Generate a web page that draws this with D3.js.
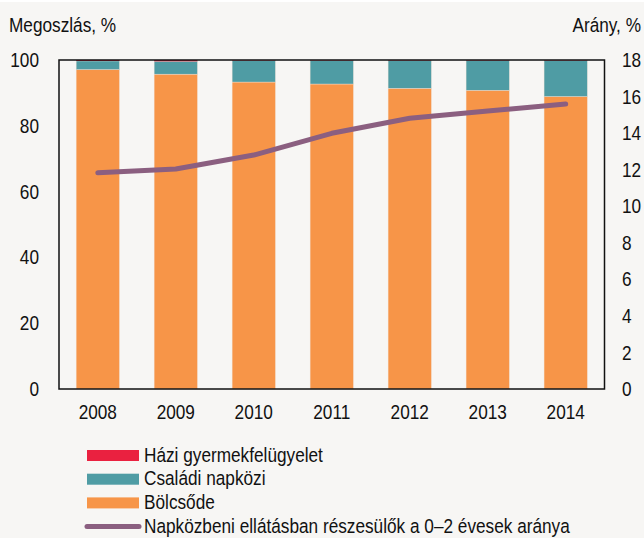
<!DOCTYPE html>
<html><head><meta charset="utf-8">
<script src="https://cdn.jsdelivr.net/npm/d3@7"></script>
<style>
html,body{margin:0;padding:0;background:#f7f6f4;}
svg{display:block;}
text{font-family:"Liberation Sans",Arial,sans-serif;fill:#111;}
</style></head>
<body><svg id="c" width="644" height="538"></svg>
<script>
const years = ["2008","2009","2010","2011","2012","2013","2014"];
const bolcsode = [97.1, 95.7, 93.3, 92.7, 91.4, 90.8, 88.9];
const csaladi = [2.6, 3.9, 6.55, 7.15, 8.45, 9.05, 10.95];
const hazi = [0.3, 0.4, 0.15, 0.15, 0.15, 0.15, 0.15];
const arany = [11.83, 12.04, 12.8, 13.99, 14.81, 15.21, 15.59];
const leftTicks = [0, 20, 40, 60, 80, 100];
const rightTicks = [0, 2, 4, 6, 8, 10, 12, 14, 16, 18];
const seriesNames = ["Házi gyermekfelügyelet", "Családi napközi", "Bölcsőde"];
const lineName = "Napközbeni ellátásban részesülők a 0–2 évesek aránya";
const colors = {bolcsode:"#f79548", csaladi:"#4f9ca4", hazi:"#ea2140", line:"#8b5f80"};

const FS = 20.5, SX = 0.84;
const svg = d3.select("#c");
svg.append("rect").attr("width",644).attr("height",538).attr("fill","#f7f6f4");
svg.append("rect").attr("width",644).attr("height",2).attr("fill","#ffffff");

function label(sel, x, y, txt, anchor){
  return sel.append("text")
    .attr("transform",`translate(${x},${y}) scale(${SX},1)`)
    .attr("font-size",FS).attr("text-anchor",anchor||"start").text(txt);
}

const L = 59, R = 604.5, T = 60, B = 389;
const x = d3.scaleBand().domain(years).range([L, R]).paddingInner(0.445).paddingOuter(0.22);
const yL = d3.scaleLinear().domain([0,100]).range([B, T]);
const yR = d3.scaleLinear().domain([0,18]).range([B, T]);

const rows = years.map((yr,i)=>({yr, bolcsode:bolcsode[i], csaladi:csaladi[i], hazi:hazi[i]}));
const stack = d3.stack().keys(["bolcsode","csaladi","hazi"])(rows);

const g = svg.append("g");
stack.forEach(s=>{
  g.selectAll(null).data(s).enter().append("rect")
    .attr("x", d=>x(d.data.yr))
    .attr("width", x.bandwidth())
    .attr("y", d=>yL(d[1]))
    .attr("height", d=>yL(d[0])-yL(d[1]))
    .attr("fill", colors[s.key])
    .attr("stroke", s.key==="hazi" ? "none" : "#f1e2d6").attr("stroke-width", 0.4);
});

// line
const line = d3.line().x((d,i)=>x(years[i])+x.bandwidth()/2).y(d=>yR(d));
svg.append("path").datum(arany).attr("d", line)
  .attr("fill","none").attr("stroke",colors.line).attr("stroke-width",5)
  .attr("stroke-linecap","round").attr("stroke-linejoin","round");

// frame
svg.append("rect").attr("x",L).attr("y",T).attr("width",R-L).attr("height",B-T)
  .attr("fill","none").attr("stroke","#111").attr("stroke-width",1.5);

// axes
const axL = d3.axisLeft(yL).tickValues(leftTicks).tickSize(0).tickPadding(20);
const gl = svg.append("g").attr("transform",`translate(${L},0)`).call(axL);
const axR = d3.axisRight(yR).tickValues(rightTicks).tickSize(0).tickPadding(17.5);
const gr = svg.append("g").attr("transform",`translate(${R},0)`).call(axR);
const axB = d3.axisBottom(x).tickSize(0).tickPadding(15);
const gb = svg.append("g").attr("transform",`translate(0,${B})`).call(axB);
[gl,gr,gb].forEach(a=>{
  a.select(".domain").remove();
  a.selectAll("text").each(function(){
    const t = d3.select(this);
    const tx = +t.attr("x") || 0;
    const ty = +t.attr("y") || 0;
    t.attr("x", null).attr("y", null)
     .attr("transform", `translate(${tx},${ty}) scale(${SX},1)`)
     .attr("font-size", FS).attr("fill","#111")
     .attr("font-family",'"Liberation Sans",Arial,sans-serif');
  });
});

label(svg, 9, 31.5, "Megoszlás, %");
label(svg, 641, 31.5, "Arány, %", "end");

// legend
const legKeys = ["hazi","csaladi","bolcsode"];
const lg = svg.append("g");
legKeys.forEach((k,i)=>{
  const yy = 455.5 + i*23.7;
  lg.append("rect").attr("x",87).attr("y",yy-5.5).attr("width",52).attr("height",11).attr("fill",colors[k]);
  label(lg, 144, 461.5 + i*23.7, seriesNames[i]);
});
lg.append("line").attr("x1",87).attr("x2",139).attr("y1",526.6).attr("y2",526.6)
  .attr("stroke",colors.line).attr("stroke-width",5).attr("stroke-linecap","round");
label(lg, 144, 533, lineName);
</script></body></html>
